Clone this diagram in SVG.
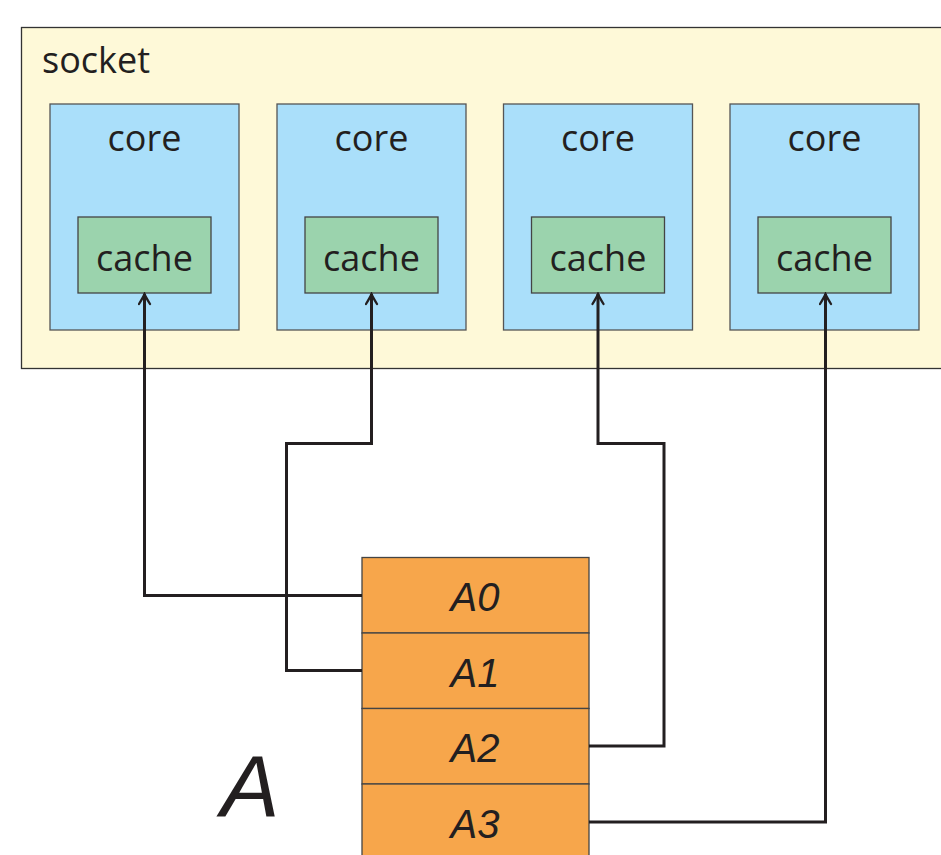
<svg xmlns="http://www.w3.org/2000/svg" width="941" height="855" viewBox="0 0 941 855">
  <style>
    .socket { fill: #fef9d8; stroke: #333; stroke-width: 1.3; }
    .core { fill: #aadffa; stroke: #555; stroke-width: 1.3; }
    .cache { fill: #9bd3ad; stroke: #444; stroke-width: 1.3; }
    .cell { fill: #f7a64b; stroke: #444; stroke-width: 1.3; }
    .lbl { font-family: "Open Sans", "Noto Sans", sans-serif; font-size: 36px; fill: #231f20; text-anchor: middle; }
    .alab { font-family: "Liberation Sans", Arial, sans-serif; font-style: italic; font-size: 40px; fill: #231f20; text-anchor: middle; }
    .conn { fill: none; stroke: #231f20; stroke-width: 3; stroke-linejoin: miter; }
  </style>
  <defs>
    <marker id="arr" markerUnits="userSpaceOnUse" viewBox="-12 -7 14 14" markerWidth="14" markerHeight="14" refX="0" refY="0" orient="auto">
      <path d="M-10,-5.5 Q-3.5,-1.5 0,0 Q-3.5,1.5 -10,5.5" fill="none" stroke="#231f20" stroke-width="2.3" stroke-linecap="round"/>
    </marker>
  </defs>
  <rect width="941" height="855" fill="#ffffff"/>

  <g id="socket">
    <rect class="socket" x="21.5" y="27.5" width="930" height="341"/>
    <text x="42" y="73" font-family="Open Sans, Noto Sans, sans-serif" font-size="36" fill="#231f20">socket</text>
  </g>

  <g id="core0">
    <rect class="core" x="50" y="104" width="189" height="226"/>
    <text class="lbl" x="144.5" y="151">core</text>
  </g>
  <g id="cache0">
    <rect class="cache" x="78" y="217" width="133" height="76"/>
    <text class="lbl" x="144.5" y="271">cache</text>
  </g>

  <g id="core1">
    <rect class="core" x="277" y="104" width="189" height="226"/>
    <text class="lbl" x="371.5" y="151">core</text>
  </g>
  <g id="cache1">
    <rect class="cache" x="305" y="217" width="133" height="76"/>
    <text class="lbl" x="371.5" y="271">cache</text>
  </g>

  <g id="core2">
    <rect class="core" x="503.5" y="104" width="189" height="226"/>
    <text class="lbl" x="598" y="151">core</text>
  </g>
  <g id="cache2">
    <rect class="cache" x="531.5" y="217" width="133" height="76"/>
    <text class="lbl" x="598" y="271">cache</text>
  </g>

  <g id="core3">
    <rect class="core" x="730" y="104" width="189" height="226"/>
    <text class="lbl" x="824.5" y="151">core</text>
  </g>
  <g id="cache3">
    <rect class="cache" x="758" y="217" width="133" height="76"/>
    <text class="lbl" x="824.5" y="271">cache</text>
  </g>

  <g id="array">
    <g id="A0">
      <rect class="cell" x="362" y="557.5" width="227" height="75.5"/>
      <text class="alab" x="475" y="611">A0</text>
    </g>
    <g id="A1">
      <rect class="cell" x="362" y="633" width="227" height="75.5"/>
      <text class="alab" x="475" y="687">A1</text>
    </g>
    <g id="A2">
      <rect class="cell" x="362" y="708.5" width="227" height="75.5"/>
      <text class="alab" x="475" y="762">A2</text>
    </g>
    <g id="A3">
      <rect class="cell" x="362" y="784" width="227" height="80"/>
      <text class="alab" x="475" y="838">A3</text>
    </g>
  </g>

  <g id="arrayName">
    <text x="250" y="817" font-family="Liberation Sans, Arial, sans-serif" font-style="italic" font-size="88" fill="#231f20" text-anchor="middle">A</text>
  </g>

  <g id="connectors">
    <path class="conn" marker-end="url(#arr)" d="M362,595.5 H144.5 V294"/>
    <path class="conn" marker-end="url(#arr)" d="M362,670.5 H286.5 V443.5 H371.5 V294"/>
    <path class="conn" marker-end="url(#arr)" d="M589,746 H664 V443.5 H598 V294"/>
    <path class="conn" marker-end="url(#arr)" d="M589,822 H825.5 V294"/>
  </g>
</svg>
